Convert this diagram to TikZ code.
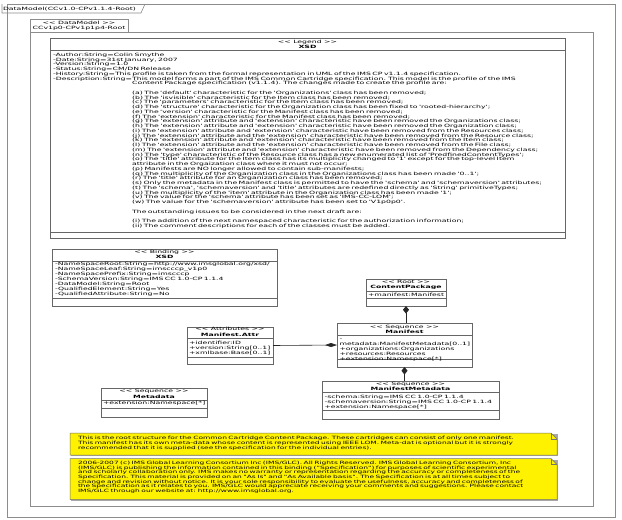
\documentclass[tikz,border=0pt]{standalone}
\usepackage{fontspec}
\newfontfamily\umlf[FakeStretch=1.76]{DejaVu Sans}
\newfontfamily\umlg[FakeStretch=1.7]{DejaVu Sans}
\usetikzlibrary{arrows.meta}
\lineskiplimit=-20pt
\begin{document}
\begin{tikzpicture}[x=1pt,y=-1pt,
  every node/.style={inner sep=0pt,outer sep=0pt},
  tf/.style={font=\umlf\fontsize{4.4}{5}\selectfont},
  lf/.style={font=\umlf\fontsize{4.4}{4.75}\selectfont},
  nf/.style={font=\umlg\fontsize{4.4}{4.6}\selectfont},
  nfa/.style={font=\umlg\fontsize{4.4}{5}\selectfont},
  bf/.style={font=\umlf\bfseries\fontsize{4.4}{5}\selectfont},
  pkgline/.style={draw=black!45,line width=0.6pt},
  box/.style={draw=black!60,line width=0.6pt,fill=white,anchor=north west},
  sepline/.style={draw=black!60,line width=0.5pt},
  one/.style={tf,anchor=base west},
  hdr/.style={tf,anchor=base},
  hdrb/.style={bf,anchor=base},
  multi/.style={anchor=base west,text width=#1,align=left},
  conn/.style={draw=black!85,line width=0.6pt},
  notebox/.style={fill=yellow,draw=black!55,line width=0.5pt},
  noteshadow/.style={fill=black!35},
]
\useasboundingbox (0,0) rectangle (622,520);
\fill[white] (0,0) rectangle (622,520);
% outer package
\draw[pkgline] (7,4) rectangle (615,517);
\draw[pkgline] (2,4) -- (2,13) -- (141,13) -- (145,4);
\node[one] (outertab) at (3,10.8) {DataModel(CCv1.0-CPv1.1.4-Root)};
% inner package
\draw[pkgline] (30,32) rectangle (593,506);
\draw[pkgline] (30,19) rectangle (128,32);
\node[hdr] (innertabA) at (79,24.4) {<< DataModel >>};
\node[hdr] (innertabB) at (79,29.9) {CCv1p0-CPv1p1p4-Root};

% Legend
\node[box,minimum width=515pt,minimum height=200pt] (legend) at (50,38) {};
\draw[sepline] (50,50) -- (565,50);
\draw[sepline] (50,232) -- (565,232);
\node[hdr] (legst) at (307.5,43.5) {<< Legend >>};
\node[hdrb] (legname) at (307.5,48.3) {XSD};
\node[lf,multi=505pt] (legattr) at (53,56.4) {-Author:String=Colin Smythe\\
-Date:String=31st January, 2007\\
-Version:String=1.0\\
-Status:String=CM/DN Release\\
-History:String=This profile is taken from the formal representation in UML of the IMS CP v1.1.4 specification.};
\node[lf,anchor=base west] (legdlab) at (53,80.15) {-Description:String=};
\node[lf,multi=470pt] (legdesc) at (legdlab.base east) {This model forms a part of the IMS Common Cartridge specification.  This model is the profile of the IMS\\
Content Package specification (v1.1.4).  The changes made to create the profile are:\\[4.75pt]
(a) The 'default' characteristic for the 'Organizations' class has been removed;\\
(b) The 'isvisible' characteristic for the Item class has been removed;\\
(c) The 'parameters' characteristic for the Item class has been removed;\\
(d) The 'structure' characteristic for the Organization class has been fixed to 'rooted-hierarchy';\\
(e) The 'version' characteristic for the Manifest class has been removed;\\
(f) The 'extension' characteristic for the Manifest class has been removed;\\
(g) The 'extension' attribute and 'extension' characteristic have been removed the Organizations class;\\
(h) The 'extension' attribute and 'extension' characteristic have been removed the Organization class;\\
(i) The 'extension' attribute and 'extension' characteristic have been removed from the Resources class;\\
(j) The 'extension' attribute and the 'extension' characteristic have been removed from the Resource class;\\
(k) The 'extension' attribute and 'extension' characteristic have been removed from the Item class;\\
(l) The 'extension' attribute and the 'extension' characteristic have been removed from the File class;\\
(m) The 'extension' attribute and 'extension' characteristic have been removed from the Dependency class;\\
(n) The 'type' characteristic of the Resource class has a new enumerated list of 'PredfinedContentTypes';\\
(o) The 'title' attribute for the Item class has its multiplicity changed to '1' except for the top-level Item\\
attribute in the Orgaization class where it must not occur;\\
(p) Manifests are NO longer allowed to contain sub-manifests;\\
(q) The multiplicity of the Organization class in the Organizations class has been made '0..1';\\
(r) The 'title' attribute for an Organization class has been removed;\\
(s) Only the metadata in the Manifest class is permitted to have the 'schema' and 'schemaversion' attributes;\\
(t) The 'schema', 'schemaversion' and 'title' attributes are redefined directly as 'String' primitiveTypes;\\
(u) The multiplicity of the 'item' attribute in the Organization class has been made '1';\\
(v) The value for the 'schema' attribute has been set as 'IMS-CC-LOM';\\
(w) The value for the 'schemaversion' attribute has been set to 'V1p0p0'.\\[4.75pt]
The outstanding issues to be considered in the next draft are:\\[4.75pt]
(i) The addition of the next namespaced characteristic for the authorization information;\\
(ii) The comment descriptions for each of the classes must be added.};

% Binding
\node[box,minimum width=225pt,minimum height=57pt] (binding) at (52,249) {};
\draw[sepline] (52,261) -- (277,261);
\draw[sepline] (52,298) -- (277,298);
\node[hdr] (bindst) at (164.5,253.5) {<< Binding >>};
\node[hdrb] (bindname) at (164.5,258.6) {XSD};
\node[tf,multi=220pt] (bindattr) at (55,265.4) {-NameSpaceRoot:String=http://www.imsglobal.org/xsd/\\
-NameSpaceLeaf:String=imscccp\_v1p0\\
-NameSpacePrefix:String=imscccp\\
-SchemaVersion:String=IMS CC 1.0-CP 1.1.4\\
-DataModel:String=Root\\
-QualifiedElement:String=Yes\\
-QualifiedAttribute:String=No};

% ContentPackage
\node[box,minimum width=80pt,minimum height=27pt] (cp) at (366,279) {};
\draw[sepline] (366,291) -- (446,291);
\draw[sepline] (366,298) -- (446,298);
\node[hdr] (cpst) at (406,283.5) {<< Root >>};
\node[hdrb] (cpname) at (406,288.5) {ContentPackage};
\node[one] (cpattr) at (368,296.4) {+manifest:Manifest};

% Manifest
\node[box,minimum width=135pt,minimum height=44pt] (man) at (337,323) {};
\draw[sepline] (337,335.5) -- (472,335.5);
\draw[sepline] (337,359) -- (472,359);
\node[hdr] (manst) at (404.5,328.5) {<< Sequence >>};
\node[hdrb] (manname) at (404.5,333.5) {Manifest};
\node[tf,multi=130pt] (manattr) at (339.5,340.4) {-metadata:ManifestMetadata[0..1]\\
+organizations:Organizations\\
+resources:Resources\\
+extension:Namespace[*]};

% Manifest.Attr
\node[box,minimum width=86pt,minimum height=37pt] (mattr) at (187,327) {};
\draw[sepline] (187,338.5) -- (273,338.5);
\draw[sepline] (187,357) -- (273,357);
\node[hdr] (mattrst) at (230,330.8) {<< Attributes >>};
\node[hdrb] (mattrname) at (230,336.5) {Manifest.Attr};
\node[tf,multi=84pt] (mattrattr) at (189,344.4) {+identifier:ID\\
+version:String[0..1]\\
+xmlbase:Base[0..1]};

% ManifestMetadata
\node[box,minimum width=177pt,minimum height=38pt] (mm) at (322,381) {};
\draw[sepline] (322,392) -- (499,392);
\draw[sepline] (322,410) -- (499,410);
\node[hdr] (mmst) at (410.5,385) {<< Sequence >>};
\node[hdrb] (mmname) at (410.5,390) {ManifestMetadata};
\node[tf,multi=175pt] (mmattr) at (324.5,398) {-schema:String=IMS CC 1.0-CP 1.1.4\\
-schemaversion:String=IMS CC 1.0-CP 1.1.4\\
+extension:Namespace[*]};

% Metadata
\node[box,minimum width=106pt,minimum height=29pt] (md) at (101,388) {};
\draw[sepline] (101,400) -- (207,400);
\draw[sepline] (101,408.3) -- (207,408.3);
\node[hdr] (mdst) at (154,392.5) {<< Sequence >>};
\node[hdrb] (mdname) at (154,398) {Metadata};
\node[one] (mdattr) at (103,404.9) {+extension:Namespace[*]};

% connectors (composition)
\draw[conn,{Diamond[length=7.5pt,width=6pt]}-] (cp.south) -- (cp.south |- man.north);
\draw[conn,-{Diamond[length=12pt,width=4pt]}] (mattr.east) -- (man.west);
\draw[conn,{Diamond[length=7.5pt,width=6pt]}-] (man.south) -- (man.south |- mm.north);

% notes
\node[anchor=north west,minimum width=487pt,minimum height=22pt] (note1) at (70,433) {};
\fill[noteshadow] ([xshift=1pt,yshift=-1pt]note1.north west) rectangle ([xshift=1pt,yshift=-1pt]note1.south east);
\draw[notebox] (note1.north west) -- ([xshift=-6pt]note1.north east) -- ([yshift=-6pt]note1.north east) -- (note1.south east) -- (note1.south west) -- cycle;
\draw[black!55,line width=0.5pt] ([xshift=-6pt]note1.north east) -- ([xshift=-6pt,yshift=-6pt]note1.north east) -- ([yshift=-6pt]note1.north east);
\node[nfa,multi=467pt] (note1text) at (78,439.7) {\makebox[\linewidth][s]{This is the root structure for the Common Cartridge Content Package.  These cartridges can consist  of only one manifest.}\\
\makebox[\linewidth][s]{This manifest has its own meta-data whose content is represented using IEEE LOM.  Meta-dat is optional but it is strongly}\\
recommended that it is supplied (see the specification for the individual entries).};

\node[anchor=north west,minimum width=487pt,minimum height=41pt] (note2) at (70,458.5) {};
\fill[noteshadow] ([xshift=1pt,yshift=-1pt]note2.north west) rectangle ([xshift=1pt,yshift=-1pt]note2.south east);
\draw[notebox] (note2.north west) -- ([xshift=-6pt]note2.north east) -- ([yshift=-6pt]note2.north east) -- (note2.south east) -- (note2.south west) -- cycle;
\draw[black!55,line width=0.5pt] ([xshift=-6pt]note2.north east) -- ([xshift=-6pt,yshift=-6pt]note2.north east) -- ([yshift=-6pt]note2.north east);
\node[nf,multi=467pt] (note2text) at (78,464.7) {\makebox[\linewidth][s]{2006-2007 (c) IMS Global Learning Consortium Inc (IMS/GLC).  All Rights Reserved.  IMS Global Learning Consortium, Inc}\\
\makebox[\linewidth][s]{(IMS/GLC) is publishing the information contained in this binding ("Specification") for purposes of scientific experimental}\\
\makebox[\linewidth][s]{and scholarly collaboration only.  IMS makes no warranty or representation regarding the accuracy or completeness of the}\\
\makebox[\linewidth][s]{Specification.  This material is provided on an "As Is" and "As Available basis".  The Specification is at all times subject to}\\
\makebox[\linewidth][s]{change and revision without notice.  It is your sole responsibility to evaluate the usefulness, accuracy and completeness of}\\
\makebox[\linewidth][s]{the Specification as it relates to you.  IMS/GLC would appreciate receiving your comments and suggestions.  Please contact}\\
IMS/GLC through our website at: http://www.imsglobal.org.};
\end{tikzpicture}
\end{document}
